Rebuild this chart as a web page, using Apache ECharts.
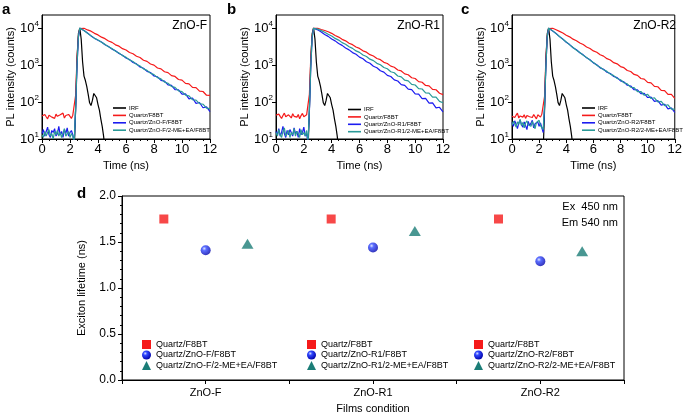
<!DOCTYPE html>
<html><head><meta charset="utf-8">
<script src="https://cdn.jsdelivr.net/npm/echarts@6/dist/echarts.min.js"></script>
<style>html,body{margin:0;padding:0;background:#fff}#c{width:685px;height:416px}</style>
</head><body><div id="c"></div>
<script>
const FONT = 'Arial, "Liberation Sans", sans-serif';

// ---- time axis of the decay traces (ns)
const timeNs = [0,0.1,0.2,0.3,0.4,0.5,0.6,0.7,0.8,0.9,1.0,1.1,1.2,1.3,1.4,1.5,1.6,1.7,1.8,1.9,2.0,2.1,2.2,
  2.3,2.4,2.5,2.6,2.7,2.8,
  3.0,3.25,3.5,3.75,4.0,4.25,4.5,4.75,5.0,5.25,5.5,5.75,6.0,6.25,6.5,6.75,7.0,7.25,7.5,7.75,8.0,8.25,8.5,8.75,9.0,9.25,9.5,9.75,10.0,10.25,10.5,10.75,11.0,11.25,11.5,11.75,12.0];

// ---- instrument response function
const irfTime = [2.3,2.4,2.5,2.6,2.7,2.8,2.9,3.0,3.1,3.2,3.3,3.4,3.5,3.6,3.7,3.8,3.9,4.0,4.1,4.2,4.3,4.4,4.5];
const irfCounts = [5,60,1500,7000,10000,5000,1200,500,380,260,160,95,80,110,170,185,130,85,60,35,22,12,5];

// ---- panel a (ZnO-F)
const aF8BT = [42,38,46,40,35,44,49,39,43,36,47,41,38,45,40,50,37,43,39,46,41,36,44,
  45,150,1500,6000,9600,10000,
  9800,8850,8200,7150,6500,5650,5150,4450,4080,3500,3220,2760,2540,2170,2010,1720,1590,1340,1250,1060,990,830,785,655,620,515,490,405,390,318,308,248,245,196,192,152,150];
const aZnO = [14,18,12,16,21,13,11,17,15,19,12,14,22,13,16,11,18,14,20,12,15,17,13,
  8,60,900,5500,9800,9700,
  8500,7300,6100,5300,4650,4170,3530,3170,2680,2420,2040,1840,1540,1400,1170,1070,885,815,670,625,505,478,382,366,290,280,215,214,163,166,122,128,92,97,70,74,55];
const aZnOEA = [13,11,16,12,15,18,12,14,10,16,13,17,12,15,11,14,19,12,13,16,11,14,12,
  8,70,1000,5800,9900,9700,
  8550,7200,6200,5230,4740,4090,3600,3110,2770,2360,2110,1790,1610,1360,1240,1040,940,785,715,600,548,455,420,345,320,262,248,199,190,153,146,115,112,90,87,68,66];

// ---- panel b (ZnO-R1)
const bF8BT = [44,39,47,41,36,43,50,40,38,45,42,37,48,41,44,39,46,35,43,49,40,38,45,
  45,160,1600,6200,9700,10000,
  9800,9100,8550,7880,7150,6230,5660,4920,4480,3880,3540,3060,2800,2410,2220,1900,1750,1500,1390,1180,1095,930,870,732,690,575,545,452,432,356,342,280,272,220,214,172,158];
const bZnO = [16,13,19,12,15,22,14,11,17,13,18,15,12,20,14,16,11,19,13,15,21,12,14,
  8,55,900,5600,9800,9500,
  8900,7800,6700,5920,5020,4480,3790,3390,2860,2560,2160,1940,1630,1470,1225,1115,925,845,698,640,525,488,395,370,296,282,222,215,166,163,124,125,93,95,69,72,54];
const bZnOEA = [15,12,18,13,11,16,20,12,14,17,11,15,13,19,12,16,14,11,18,13,15,12,17,
  8,65,950,5700,9800,9800,
  9350,8480,7650,6760,6060,5220,4700,4020,3640,3110,2810,2400,2190,1860,1690,1435,1310,1108,1015,855,790,655,615,505,478,388,372,298,288,230,224,176,174,136,136,104,95];

// ---- panel c (ZnO-R2)
const cF8BT = [41,46,38,44,50,37,42,47,39,45,36,43,48,40,44,38,46,41,35,45,42,39,47,
  45,140,1500,6000,9600,10000,
  9800,8950,8080,7300,6360,5750,4990,4530,3910,3560,3070,2790,2400,2200,1885,1735,1480,1360,1155,1075,905,845,708,666,555,525,432,414,338,327,263,258,205,204,160,160,126];
const cZnO = [28,22,31,25,19,27,33,24,21,29,26,18,30,23,27,32,20,26,24,29,22,27,25,
  15,70,950,5700,9800,9600,
  8300,7080,5830,5010,4120,3560,2910,2570,2130,1880,1560,1385,1140,1015,832,765,638,588,488,454,372,349,283,270,214,212,168,170,132,136,104,109,82,87,65,69,52];
const cZnOEA = [24,30,26,21,29,25,34,23,28,20,27,31,24,26,22,30,27,19,28,25,32,23,26,
  18,80,1000,5900,9900,9600,
  8350,7020,5900,4930,4200,3490,2970,2510,2180,1830,1600,1350,1175,985,865,742,670,565,515,430,400,330,308,250,245,190,192,152,161,124,130,100,104,80,84,64,64];

// ---- panel d (exciton lifetime, ns)
const films = ['ZnO-F','ZnO-R1','ZnO-R2'];
const tauF8BT = [1.75,1.75,1.75];
const tauZnO = [1.41,1.44,1.29];
const tauZnOEA = [1.48,1.62,1.40];

// ---- tick settings
const timeTicks = {min:0, max:12, interval:2};
const tauTicks = {min:0, max:2, interval:0.5};

// ---- styling
const RED = '#f51a1a', BLUE = '#1c1cf0', TEAL_LINE = '#2a9a98', TEAL = '#1b7d77', BLACK = '#000';
const sphere = {type:'radial', x:0.36, y:0.33, r:0.7, colorStops:[
  {offset:0, color:'#d8e0ff'}, {offset:0.3, color:'#3048ff'}, {offset:1, color:'#0000a8'}]};

const panelData = [
  {title:'ZnO-F', f8bt:aF8BT, zno:aZnO, znoEA:aZnOEA},
  {title:'ZnO-R1', f8bt:bF8BT, zno:bZnO, znoEA:bZnOEA},
  {title:'ZnO-R2', f8bt:cF8BT, zno:cZnO, znoEA:cZnOEA}
];

const grids = [
  {left:42, top:15, width:168, height:124},
  {left:276, top:15, width:167, height:124},
  {left:512, top:15, width:168, height:124},
  {left:122, top:196, width:502, height:184}
].map(g => Object.assign({show:true, borderColor:'#000', borderWidth:1, backgroundColor:'transparent', containLabel:false}, g));

const axisLine = {show:true, onZero:false, lineStyle:{color:'#000', width:1}};
const xAxes = [], yAxes = [], series = [], legends = [];

const pair = (xs, ys) => xs.map((x, k) => [x, ys[k]]);
const legendPos = [{left:108, top:100}, {left:343, top:101.5}, {left:577, top:100}];

panelData.forEach((p, i) => {
  xAxes.push({
    gridIndex:i, type:'value', min:timeTicks.min, max:timeTicks.max, interval:timeTicks.interval,
    axisLine, axisTick:{show:true, length:4, lineStyle:{color:'#000'}},
    minorTick:{show:true, splitNumber:4, length:2, lineStyle:{color:'#000'}},
    splitLine:{show:false}, minorSplitLine:{show:false},
    axisLabel:{fontSize:13, color:'#000', fontFamily:FONT, margin:4},
    name:'Time (ns)', nameLocation:'middle', nameGap:21,
    nameTextStyle:{fontSize:11, color:'#000', fontFamily:FONT}
  });
  yAxes.push({
    gridIndex:i, type:'log', logBase:10, min:10, max:22400,
    axisLine, axisTick:{show:true, length:4, lineStyle:{color:'#000'}},
    splitLine:{show:false},
    axisLabel:{showMaxLabel:false, color:'#000', fontFamily:FONT, fontSize:13, margin:3,
      formatter: v => '10{s|' + Math.round(Math.log10(v)) + '}',
      rich:{s:{fontSize:8, color:'#000', fontFamily:FONT, verticalAlign:'top', padding:[0,0,8,0]}}},
    name:'PL intensity (counts)', nameLocation:'middle', nameGap:26,
    nameTextStyle:{fontSize:11, color:'#000', fontFamily:FONT}
  });
  const names = ['IRF', 'Quartz/F8BT', 'Quartz/' + p.title + '/F8BT', 'Quartz/' + p.title + '/2-ME+EA/F8BT'];
  const cols = [BLACK, RED, BLUE, TEAL_LINE];
  const datas = [pair(irfTime, irfCounts), pair(timeNs, p.f8bt), pair(timeNs, p.zno), pair(timeNs, p.znoEA)];
  names.forEach((n, k) => {
    series.push({type:'line', name:n, xAxisIndex:i, yAxisIndex:i, data:datas[k], showSymbol:false,
      symbol:'none', clip:true, lineStyle:{color:cols[k], width:1.2}, itemStyle:{color:cols[k]}, silent:true, z:2+k});
  });
  legends.push(Object.assign({
    orient:'vertical', icon:'rect', itemWidth:13, itemHeight:1.6, itemGap:1.4, selectedMode:false,
    textStyle:{fontSize:6, lineHeight:6, color:'#000', fontFamily:FONT, padding:[0,0,0,-2]},
    data: names.map((n, k) => ({name:n, itemStyle:{color:cols[k], borderWidth:0}}))
  }, legendPos[i]));
});

// panel d axes
xAxes.push({
  gridIndex:3, type:'value', min:-0.5, max:2.5, interval:0.5,
  axisLine, axisTick:{show:true, length:4, lineStyle:{color:'#000'}},
  splitLine:{show:false},
  axisLabel:{fontSize:11, color:'#000', fontFamily:FONT, margin:7,
    formatter: v => (Math.abs(v - Math.round(v)) < 1e-9 ? films[Math.round(v)] : '')},
  name:'Films condition', nameLocation:'middle', nameGap:23,
  nameTextStyle:{fontSize:11, color:'#000', fontFamily:FONT}
});
yAxes.push({
  gridIndex:3, type:'value', min:tauTicks.min, max:tauTicks.max, interval:tauTicks.interval,
  axisLine, axisTick:{show:true, length:4, lineStyle:{color:'#000'}},
  minorTick:{show:true, splitNumber:5, length:2, lineStyle:{color:'#000'}},
  splitLine:{show:false}, minorSplitLine:{show:false},
  axisLabel:{fontSize:12, color:'#000', fontFamily:FONT, margin:6, formatter: v => v.toFixed(1)},
  name:'Exciton lifetime (ns)', nameLocation:'middle', nameGap:35,
  nameTextStyle:{fontSize:11, color:'#000', fontFamily:FONT}
});

const markerOffset = {f8bt:-0.25, zno:0, znoEA:0.25};
const dLegendLeft = [137, 302, 469];
films.forEach((f, i) => {
  const nF = 'Quartz/F8BT', nZ = 'Quartz/' + f + '/F8BT', nE = 'Quartz/' + f + '/2-ME+EA/F8BT';
  series.push({type:'scatter', name:nF, xAxisIndex:3, yAxisIndex:3, symbol:'rect', symbolSize:9,
    itemStyle:{color:RED}, data:[[i + markerOffset.f8bt, tauF8BT[i]]], silent:true, z:5});
  series.push({type:'scatter', name:nZ, xAxisIndex:3, yAxisIndex:3, symbol:'circle', symbolSize:10,
    itemStyle:{color:sphere}, data:[[i + markerOffset.zno, tauZnO[i]]], silent:true, z:5});
  series.push({type:'scatter', name:nE, xAxisIndex:3, yAxisIndex:3, symbol:'triangle', symbolSize:[12,10],
    itemStyle:{color:TEAL}, data:[[i + markerOffset.znoEA, tauZnOEA[i]]], silent:true, z:5});
  legends.push({
    orient:'vertical', left:dLegendLeft[i], top:335, itemWidth:9, itemHeight:9, itemGap:1.5, selectedMode:false,
    textStyle:{fontSize:9, lineHeight:9, color:'#000', fontFamily:FONT},
    data:[
      {name:nF, icon:'rect', itemStyle:{color:RED, borderWidth:0}},
      {name:nZ, icon:'circle', itemStyle:{color:sphere, borderWidth:0}},
      {name:nE, icon:'triangle', itemStyle:{color:TEAL, borderWidth:0}}
    ]
  });
});

const txt = (text, x, y, size, opts) => ({type:'text', x, y, silent:true,
  style:Object.assign({text, fill:'#000', font: (opts && opts.bold ? 'bold ' : '') + size + 'px ' + FONT,
    textAlign:(opts && opts.align) || 'left', textVerticalAlign:'middle'}, opts && opts.style)});

const graphics = [
  txt('a', 2, 10, 15, {bold:true}),
  txt('b', 227, 10, 15, {bold:true}),
  txt('c', 461, 10, 15, {bold:true}),
  txt('d', 77, 194, 15, {bold:true}),
  txt(panelData[0].title, 207, 26, 12, {align:'right'}),
  txt(panelData[1].title, 440, 26, 12, {align:'right'}),
  txt(panelData[2].title, 676, 26, 12, {align:'right'}),
  txt('Ex  450 nm', 618, 207, 11, {align:'right'}),
  txt('Em 540 nm', 618, 223, 11, {align:'right'})
];

const chart = echarts.init(document.getElementById('c'), null, {renderer:'canvas'});
chart.setOption({
  animation:false, backgroundColor:'#fff',
  textStyle:{fontFamily:FONT},
  grid:grids, xAxis:xAxes, yAxis:yAxes, series, legend:legends, graphic:graphics, tooltip:{show:false}
});
</script></body></html>
